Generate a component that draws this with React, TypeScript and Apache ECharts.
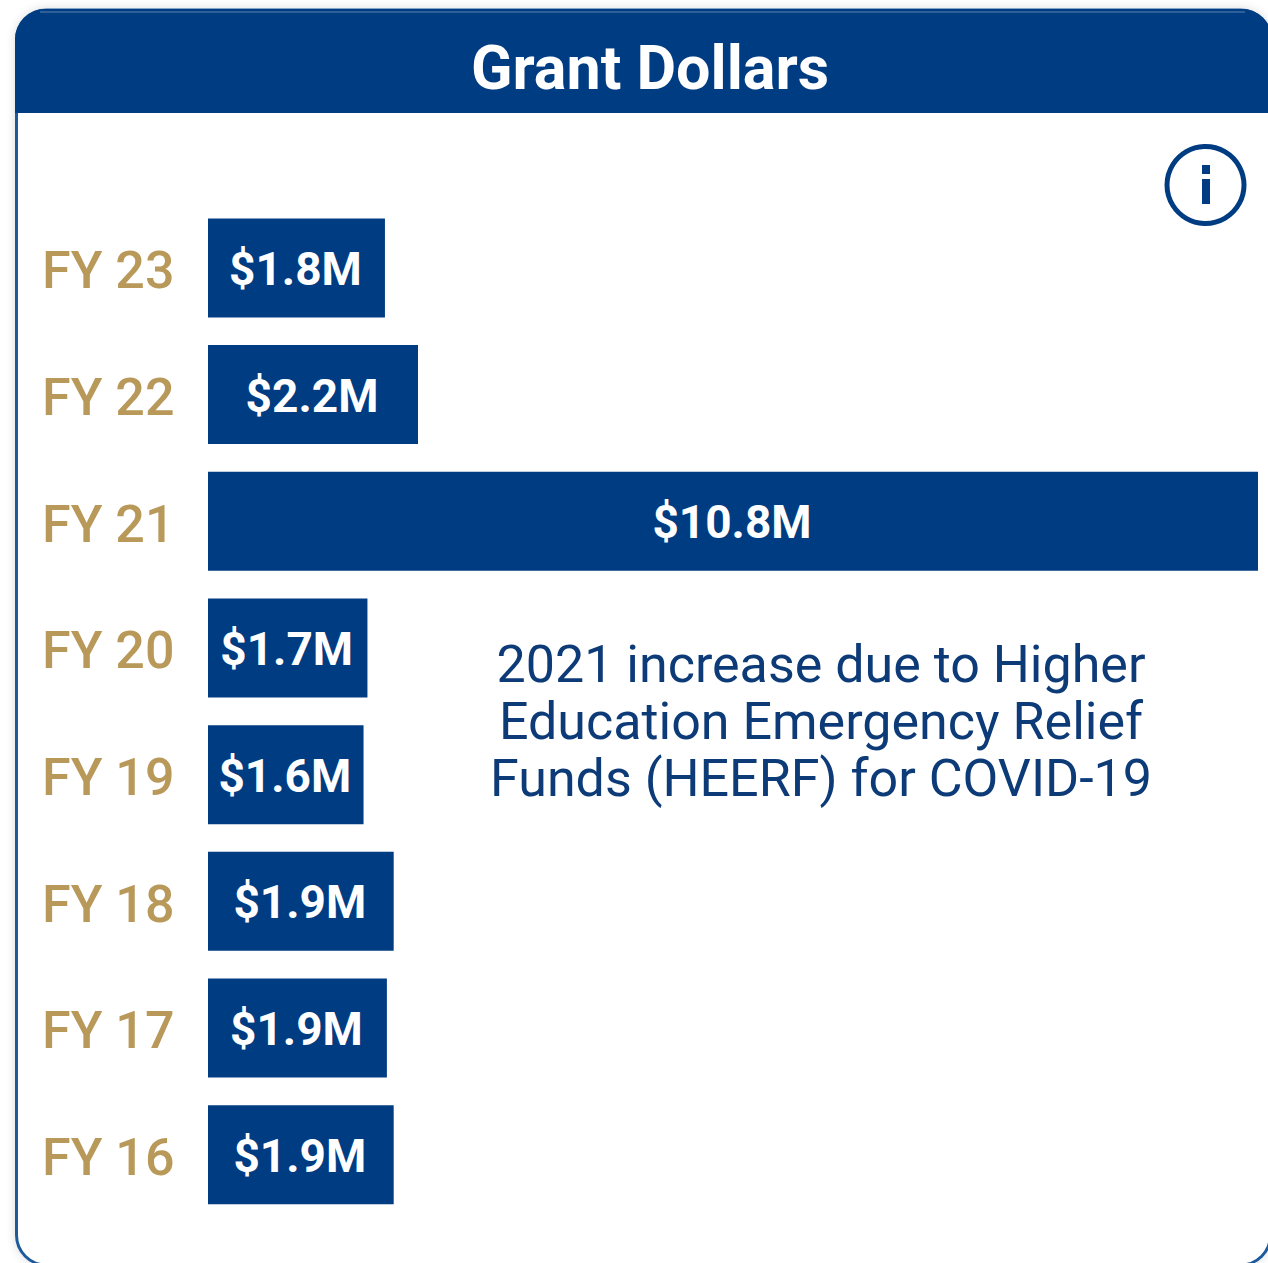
import React, { useEffect, useRef } from "react";
import * as echarts from "echarts";

const categories = ["FY 23", "FY 22", "FY 21", "FY 20", "FY 19", "FY 18", "FY 17", "FY 16"];
const grantValues = [1.82, 2.16, 10.8, 1.64, 1.6, 1.91, 1.84, 1.91];
const barLabels = ["$1.8M", "$2.2M", "$10.8M", "$1.7M", "$1.6M", "$1.9M", "$1.9M", "$1.9M"];
const titleText = "Grant Dollars";
const noteLines = [
  "2021 increase due to Higher",
  "Education Emergency Relief",
  "Funds (HEERF) for COVID-19",
];

const NAVY = "#003c82";
const GOLD = "#b8995a";
const FONT = "Roboto, 'Noto Sans', sans-serif";

export default function App() {
  const ref = useRef<HTMLDivElement>(null);
  useEffect(() => {
    const chart = echarts.init(ref.current!, undefined, { renderer: "svg" });
    chart.setOption({
      animation: false,
      backgroundColor: "#ffffff",
      title: {
        text: titleText,
        left: 650,
        top: 33,
        textAlign: "center",
        padding: 0,
        textStyle: { color: "#ffffff", fontFamily: FONT, fontWeight: 700, fontSize: 61, lineHeight: 70 },
      },
      grid: { left: 208, top: 204.6, width: 1050, height: 1013.4 },
      xAxis: { type: "value", min: 0, max: 10.8, show: false },
      yAxis: {
        type: "category",
        inverse: true,
        data: categories,
        axisLine: { show: false },
        axisTick: { show: false },
        axisLabel: {
          align: "left",
          verticalAlign: "top",
          lineHeight: 6,
          margin: 166,
          color: GOLD,
          fontFamily: FONT,
          fontWeight: 500,
          fontSize: 52,
        },
      },
      series: [
        {
          type: "bar",
          data: grantValues,
          barWidth: 99,
          z: 5,
          itemStyle: { color: NAVY },
          label: {
            show: true,
            position: "inside",
            color: "#ffffff",
            fontFamily: FONT,
            fontWeight: 700,
            fontSize: 46,
            offset: [-1, 1],
            formatter: (p: any) => barLabels[p.dataIndex],
          },
        },
      ],
      graphic: [
        {
          type: "rect",
          z: 0,
          shape: { x: 16.5, y: 10, width: 1254, height: 1255, r: 30 },
          style: {
            fill: "#ffffff",
            stroke: "#1f5a9c",
            lineWidth: 3,
            shadowBlur: 10,
            shadowColor: "rgba(0,0,0,0.14)",
          },
        },
        {
          type: "rect",
          z: 1,
          shape: { x: 15, y: 9, width: 1257, height: 104, r: [30, 30, 0, 0] },
          style: { fill: NAVY },
        },
        {
          type: "line",
          z: 2,
          shape: { x1: 40, y1: 12, x2: 1245, y2: 12 },
          style: { stroke: "#2d6099", lineWidth: 2 },
        },
        {
          type: "circle",
          z: 2,
          shape: { cx: 1205.5, cy: 185, r: 38.5 },
          style: { fill: "none", stroke: NAVY, lineWidth: 5 },
        },
        { type: "rect", z: 2, shape: { x: 1202, y: 165, width: 8, height: 9 }, style: { fill: NAVY } },
        { type: "rect", z: 2, shape: { x: 1202, y: 179, width: 8, height: 25 }, style: { fill: NAVY } },
        {
          type: "text",
          z: 6,
          x: 821,
          y: 721,
          style: {
            text: noteLines.join("\n"),
            fill: "#0d3b78",
            fontFamily: FONT,
            fontWeight: 400,
            fontSize: 52,
            lineHeight: 57,
            align: "center",
            verticalAlign: "middle",
          },
        },
      ],
    });
    return () => chart.dispose();
  }, []);
  return (
    <div
      ref={ref}
      style={{ position: "absolute", left: 0, top: 0, width: 1268, height: 1263, overflow: "hidden" }}
    />
  );
}
